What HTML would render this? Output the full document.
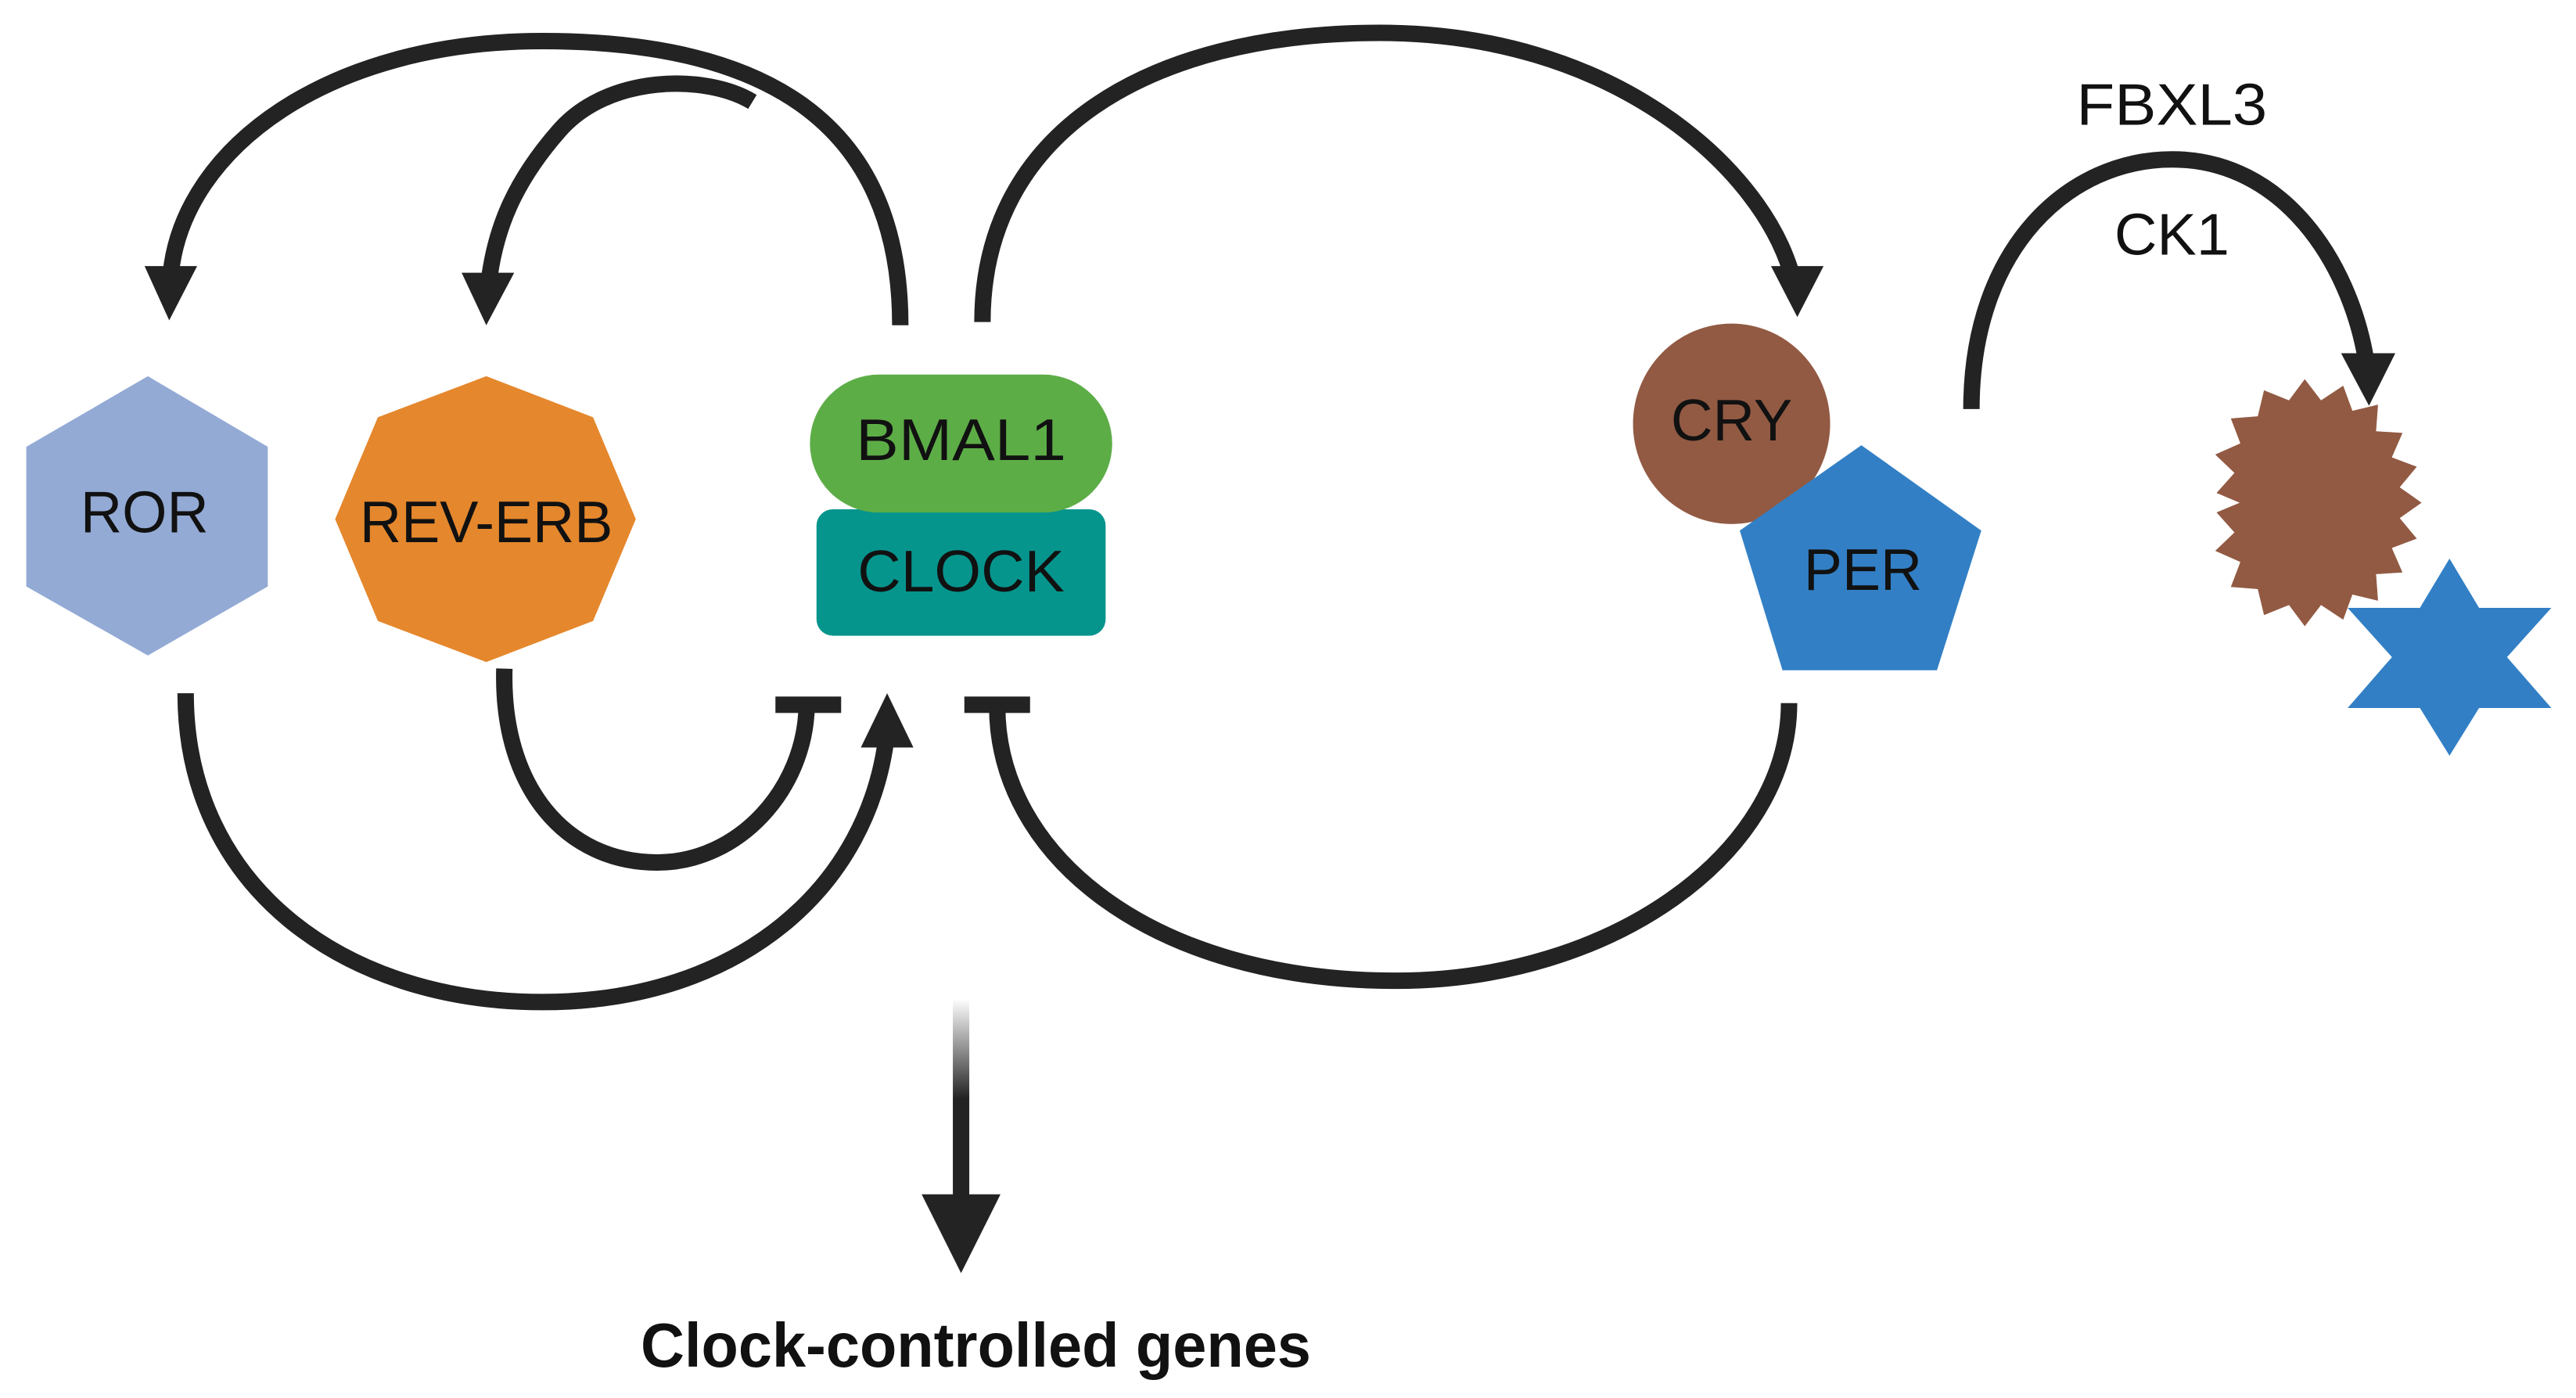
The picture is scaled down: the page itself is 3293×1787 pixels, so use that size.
<!DOCTYPE html>
<html><head><meta charset="utf-8"><style>html,body{margin:0;padding:0;background:#fff;overflow:hidden}svg{display:block}</style></head>
<body>
<svg width="3293" height="1787" viewBox="0 0 1568 851" preserveAspectRatio="none" xmlns="http://www.w3.org/2000/svg">
<defs>
<linearGradient id="fade" x1="0" y1="0" x2="0" y2="1">
<stop offset="0" stop-color="#222" stop-opacity="0"/>
<stop offset="0.5" stop-color="#222" stop-opacity="1"/>
<stop offset="1" stop-color="#222" stop-opacity="1"/>
</linearGradient>
</defs>
<g fill="none" stroke="#232323" stroke-width="10">
<path d="M548,198 C548,70 460,25 330,25 C200,25 112,90 104,166"/>
<path d="M458,62 C430,45 370,45 340,80 C312,112 302,140 298,168"/>
<path d="M598,196 C598,80 700,20 840,20 C980,20 1070,100 1090,165"/>
<path d="M1200,249 C1200,150 1260,97 1322,97 C1390,97 1430,160 1440,218"/>
<path d="M1089,428 C1089,520 980,597 850,597 C700,597 607,520 607,430"/>
<path d="M307,407 C305,480 345,525 400,525 C450,525 490,480 491,430"/>
<path d="M113,422 C113,540 210,610 330,610 C450,610 530,540 540,445"/>
</g>
<g fill="#232323">
<polygon points="103,195 88,162 120,162"/>
<polygon points="296,198 281,166 313,166"/>
<polygon points="1094,193 1078,162 1110,162"/>
<polygon points="1442,247 1425,215 1458,215"/>
<polygon points="540,422 524,455 556,455"/>
<rect x="472" y="424" width="40" height="10"/>
<rect x="587" y="424" width="40" height="10"/>
<polygon points="585,775 561,727 609,727"/>
</g>
<rect x="580" y="608" width="10" height="122" fill="url(#fade)"/>
<polygon points="90,229 163,272 163,357 90,399 16,357 16,272" fill="#93aad5"/>
<polygon points="296,229 361,254 387,316 361,378 296,403 230,378 204,316 230,254" fill="#e5872c"/>
<rect x="497" y="310" width="176" height="77" rx="10" fill="#06958d"/>
<rect x="493" y="228" width="184" height="84" rx="42" fill="#5dad47"/>
<ellipse cx="1054" cy="258" rx="60" ry="61" fill="#925a43"/>
<polygon points="1133,271 1206,323 1179,408 1085,408 1059,323" fill="#327fc5"/>
<polygon fill="#925a43" points="1474.0,306.0 1460.7,315.4 1471.1,327.9 1455.9,333.6 1462.4,348.5 1446.3,349.5 1447.5,365.7 1431.9,361.9 1426.3,377.2 1412.8,368.3 1402.9,381.2 1393.3,368.3 1378.1,374.4 1374.3,358.6 1357.9,357.3 1363.7,342.1 1348.4,335.3 1360.1,324.1 1349.2,311.9 1363.3,306.0 1349.2,300.1 1360.1,287.9 1348.4,276.7 1363.7,269.9 1357.9,254.7 1374.3,253.4 1378.1,237.6 1393.3,243.7 1402.9,230.8 1412.8,243.7 1426.3,234.8 1431.9,250.1 1447.5,246.3 1446.3,262.5 1462.4,263.5 1455.9,278.4 1471.1,284.1 1460.7,296.6"/>
<polygon fill="#327fc5" points="1491,340 1509,370 1553,370 1526,400 1553,431 1509,431 1491,460 1473,431 1429,431 1456,400 1429,370 1473,370"/>
<g font-family="'Liberation Sans', sans-serif" fill="#111" text-anchor="middle" font-size="36">
<text x="88" y="324" textLength="78" lengthAdjust="spacingAndGlyphs">ROR</text>
<text x="296" y="330" textLength="154" lengthAdjust="spacingAndGlyphs">REV-ERB</text>
<text x="585" y="280" textLength="128" lengthAdjust="spacingAndGlyphs">BMAL1</text>
<text x="585" y="360" textLength="126" lengthAdjust="spacingAndGlyphs">CLOCK</text>
<text x="1054" y="268" textLength="74" lengthAdjust="spacingAndGlyphs">CRY</text>
<text x="1134" y="359" textLength="72" lengthAdjust="spacingAndGlyphs">PER</text>
<text x="1322" y="76" textLength="116" lengthAdjust="spacingAndGlyphs">FBXL3</text>
<text x="1322" y="155" textLength="70" lengthAdjust="spacingAndGlyphs">CK1</text>
<text x="594" y="832" font-weight="bold" font-size="38" textLength="408" lengthAdjust="spacingAndGlyphs">Clock-controlled genes</text>
</g>
</svg>
</body></html>
